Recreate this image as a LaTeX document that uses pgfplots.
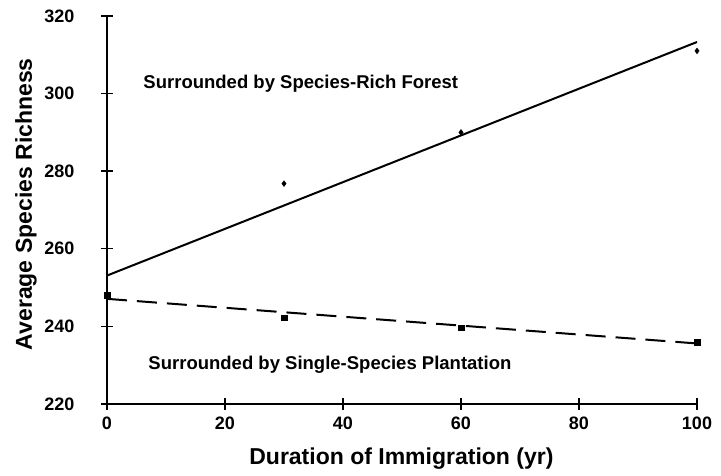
\documentclass[border=0pt]{standalone}
\usepackage{pgfplots}
\pgfplotsset{compat=1.18}
\usepackage{fontspec}
\setmainfont{Liberation Sans}
\begin{document}
\begin{tikzpicture}
\path[use as bounding box] (-107pt,-72pt) rectangle (614pt,404pt);
\begin{axis}[
  at={(0,0)}, anchor=south west,
  scale only axis, width=590pt, height=388pt,
  xmin=0, xmax=100, ymin=220, ymax=320,
  xtick={0,20,...,100}, ytick={220,240,...,320},
  axis x line*=bottom, axis y line*=left,
  axis line style={line width=1.6pt},
  tick align=center, major tick length=12pt,
  tick style={line width=1.4pt, black},
  /pgf/number format/assume math mode=true,
  ticklabel style={font=\fontsize{18}{20}\selectfont\bfseries},
  yticklabel style={xshift=-23pt},
  xticklabel style={yshift=-3pt},
  xlabel={Duration of Immigration (yr)},
  ylabel={Average Species Richness},
  label style={font=\fontsize{23}{26}\selectfont\bfseries, inner sep=0pt},
  xlabel style={at={(axis description cs:0.499,-0.157)}, anchor=base},
  ylabel style={at={(axis description cs:-0.156,0.515)}, anchor=north, rotate=0},
  clip=false,
]
% fitted lines
\addplot[black, line width=2pt] coordinates {(0,253.1) (100,313.3)};
\addplot[black, line width=2pt, dash pattern=on 20pt off 10pt] coordinates {(0,247.1) (100,235.6)};
% data points
\addplot[only marks, mark=diamond*, mark size=2.9pt, black] coordinates {(30,276.8) (60,290.0) (100,311.0)};
\addplot[only marks, mark=square*, mark size=2.8pt, black] coordinates {(0,248.1) (30,242.2) (60,239.7) (100,236.0)};
\node[anchor=base west, inner sep=0pt, font=\fontsize{18.5}{20}\selectfont\bfseries] at (axis cs:6.15,301.4) {Surrounded by Species-Rich Forest};
\node[anchor=base west, inner sep=0pt, font=\fontsize{18.5}{20}\selectfont\bfseries] at (axis cs:7.0,228.8) {Surrounded by Single-Species Plantation};
\end{axis}
\end{tikzpicture}
\end{document}
